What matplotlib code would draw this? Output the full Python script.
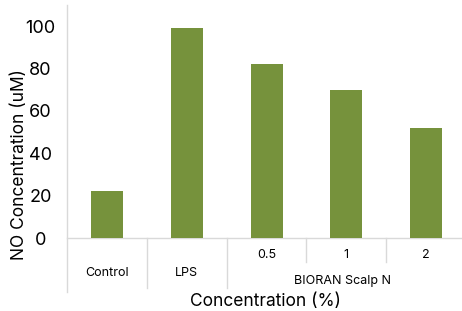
import matplotlib.pyplot as plt
from matplotlib.transforms import blended_transform_factory

plt.rcParams['font.family'] = ['Inter', 'DejaVu Sans']

# data
groups = ['Control', 'LPS', '0.5', '1', '2']
no_conc = [22, 99, 82, 70, 52]
y_ticks = [0, 20, 40, 60, 80, 100]
sub_group = 'BIORAN Scalp N'

bar_color = '#76923c'
line_color = '#d9d9d9'

fig = plt.figure(figsize=(4.62, 3.11), dpi=100)
ax = fig.add_axes([0.145, 0.2347, 0.864, 0.749])

x = list(range(len(groups)))
ax.bar(x, no_conc, width=0.4, color=bar_color, zorder=3)

ax.set_xlim(-0.5, 4.5)
ax.set_ylim(0, 110)
ax.set_yticks(y_ticks)
ax.set_yticklabels([str(t) for t in y_ticks], fontsize=13, ha='center')
ax.tick_params(axis='y', length=0, pad=19)
ax.set_xticks([])

for s in ['top', 'right', 'left']:
    ax.spines[s].set_visible(False)
ax.spines['bottom'].set_color(line_color)
ax.spines['bottom'].set_linewidth(1)

trans = blended_transform_factory(ax.transData, ax.transAxes)
# left axis line running down through the label area
ax.plot([-0.5, -0.5], [-0.232, 1.0], transform=trans, color=line_color, lw=1, clip_on=False)
# separators between categories
for xb in [0.5, 1.5]:
    ax.plot([xb, xb], [0, -0.215], transform=trans, color=line_color, lw=1, clip_on=False)
for xb in [2.5, 3.5]:
    ax.plot([xb, xb], [0, -0.103], transform=trans, color=line_color, lw=1, clip_on=False)

# category labels
for i, g in enumerate(groups):
    if i < 2:
        ax.text(i, -0.15, g, transform=trans, ha='center', va='center', fontsize=9)
    else:
        ax.text(i, -0.075, g, transform=trans, ha='center', va='center', fontsize=9)
ax.text(2.95, -0.185, sub_group, transform=trans, ha='center', va='center', fontsize=9)

fig.text(0.575, 0.03, 'Concentration (%)', ha='center', va='center', fontsize=12.5)
fig.text(0.043, 0.47, 'NO Concentration (uM)', ha='center', va='center', rotation=90, fontsize=12.5)

fig.savefig('out.png', dpi=100)
